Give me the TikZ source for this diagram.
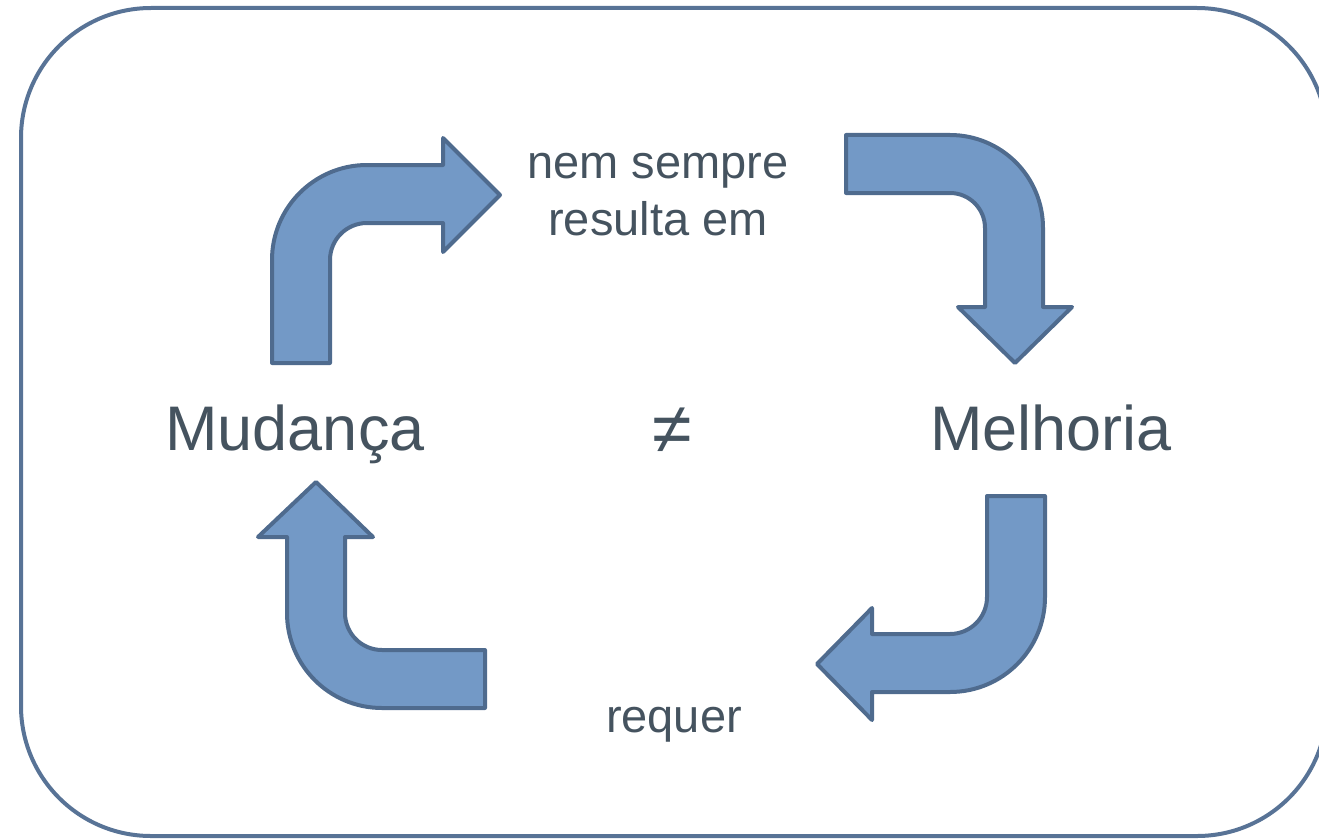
\documentclass[tikz,border=0pt]{standalone}
\usepackage{fontspec}
\setmainfont{Liberation Sans}
\definecolor{txt}{HTML}{45535F}
\definecolor{frame}{HTML}{587396}
\definecolor{afill}{HTML}{7399C6}
\definecolor{aline}{HTML}{4F6B8E}
\begin{document}
\begin{tikzpicture}[x=1pt,y=-1pt,
  bent/.style={fill=afill,draw=aline,line width=4pt,line join=round},
  bigtxt/.style={text=txt,font=\fontsize{63}{75}\selectfont,inner sep=0pt,anchor=base},
  smalltxt/.style={text=txt,font=\fontsize{47}{56}\selectfont,inner sep=0pt,anchor=base}]
\useasboundingbox (0,0) rectangle (1319,840);
% frame
\draw[frame,line width=4pt,rounded corners=130pt] (21,8) rectangle (1327,836);
% arrow 1: up then right
\draw[bent] (272,363) -- (330,363) -- (330,260) arc (180:270:37) -- (443,223) -- (443,252)
  -- (500,195) -- (443,138) -- (443,165) -- (367,165) arc (270:180:95) -- cycle;
% arrow 2: right then down
\draw[bent] (846,135) -- (950,135) arc (270:360:93) -- (1043,307) -- (1072,307)
  -- (1015,363) -- (958,307) -- (985,307) -- (985,228) arc (0:-90:35) -- (846,193) -- cycle;
% arrow 3: left then up
\draw[bent] (485,708) -- (382,708) arc (90:180:95) -- (287,537) -- (258,537)
  -- (316,482) -- (373,537) -- (345,537) -- (345,613) arc (180:90:37) -- (485,650) -- cycle;
% arrow 4: down then left
\draw[bent] (987,496) -- (1045,496) -- (1045,597) arc (0:90:95) -- (872,692) -- (872,720)
  -- (817,664) -- (872,608) -- (872,634) -- (950,634) arc (90:0:37) -- cycle;
% texts
\node[bigtxt] (mud) at (295,450) {Mudança};
\node[bigtxt] (mel) at (1051,450) {Melhoria};
\node[bigtxt,font=\fontsize{72}{80}\selectfont] (neq) at (672,453) {≠};
\node[smalltxt] (nem1) at (658,178) {nem sempre};
\node[smalltxt] (nem2) at (658,235) {resulta em};
\node[smalltxt] (req) at (674,732) {requer};
\end{tikzpicture}
\end{document}
